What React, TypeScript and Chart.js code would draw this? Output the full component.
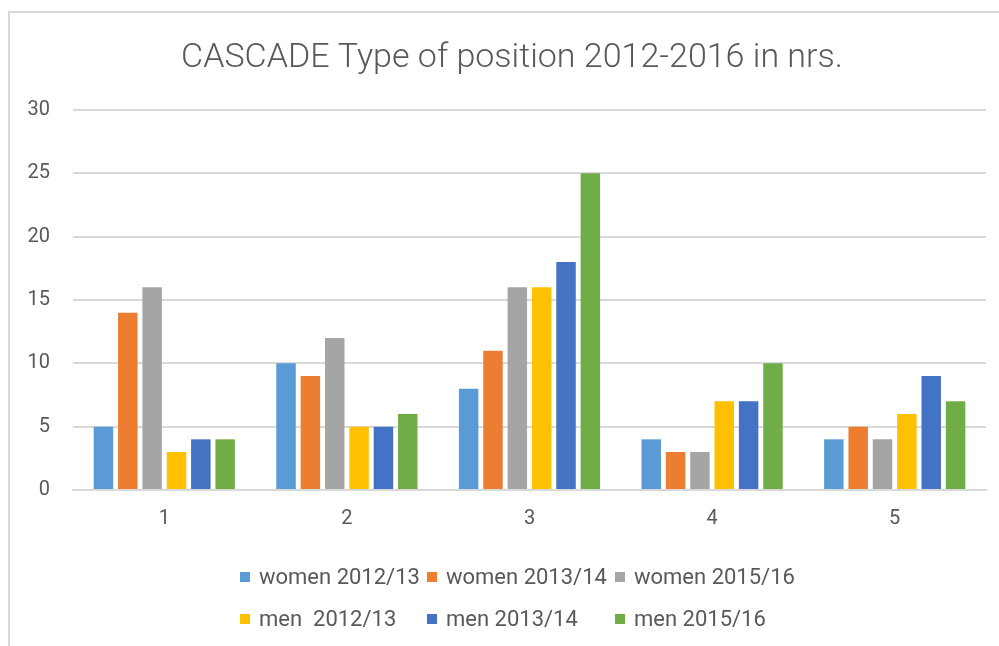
import React, { useEffect, useRef } from "react";
import { Chart, registerables } from "chart.js";

Chart.register(...registerables);

const titleText = "CASCADE Type of position 2012-2016 in nrs.";
const categories = ["1", "2", "3", "4", "5"];
const seriesNames = [
  "women 2012/13",
  "women 2013/14",
  "women 2015/16",
  "men  2012/13",
  "men 2013/14",
  "men 2015/16",
];
const women201213 = [5, 10, 8, 4, 4];
const women201314 = [14, 9, 11, 3, 5];
const women201516 = [16, 12, 16, 3, 4];
const men201213 = [3, 5, 16, 7, 6];
const men201314 = [4, 5, 18, 7, 9];
const men201516 = [4, 6, 25, 10, 7];
const seriesValues = [women201213, women201314, women201516, men201213, men201314, men201516];
const seriesColors = ["#5B9BD5", "#ED7D31", "#A5A5A5", "#FFC000", "#4472C4", "#70AD47"];
const yMin = 0;
const yMax = 30;
const yStep = 5;

const TEXT = "#595959";
const GRID = "#d9d9d9";
const FONT = "Roboto, 'Liberation Sans', sans-serif";

const framePlugin = {
  id: "frame",
  beforeDraw(chart: any) {
    const ctx = chart.ctx;
    ctx.save();
    ctx.fillStyle = "#ffffff";
    ctx.fillRect(0, 0, chart.width, chart.height);
    ctx.fillStyle = GRID;
    ctx.fillRect(8, 11, 2, chart.height - 11);
    ctx.fillRect(8, 11, chart.width - 8, 2);
    // title
    ctx.fillStyle = TEXT;
    ctx.font = `300 34px ${FONT}`;
    ctx.textAlign = "center";
    ctx.textBaseline = "alphabetic";
    ctx.fillText(titleText, 512, 67);
    ctx.restore();
  },
};

const gridLegendPlugin = {
  id: "gridLegend",
  afterDraw(chart: any) {
    const ctx = chart.ctx;
    const cols = [240, 427, 615];
    const rows = [577, 619];
    const box = 10;
    ctx.save();
    ctx.font = `400 22px ${FONT}`;
    ctx.textBaseline = "middle";
    ctx.textAlign = "left";
    chart.data.datasets.forEach((ds: any, i: number) => {
      const x = cols[i % 3];
      const y = rows[Math.floor(i / 3)];
      ctx.fillStyle = ds.backgroundColor;
      ctx.fillRect(x, y - box / 2, box, box);
      ctx.fillStyle = TEXT;
      ctx.fillText(ds.label, x + box + 9, y + 1);
    });
    ctx.restore();
  },
};

export default function App() {
  const ref = useRef<HTMLCanvasElement | null>(null);

  useEffect(() => {
    if (!ref.current) return;
    const chart = new Chart(ref.current, {
      type: "bar",
      data: {
        labels: categories,
        datasets: seriesNames.map((name, i) => ({
          label: name,
          data: seriesValues[i],
          backgroundColor: seriesColors[i],
          borderWidth: 0,
          categoryPercentage: 0.8,
          barPercentage: 0.8,
        })),
      },
      options: {
        animation: false,
        responsive: false,
        maintainAspectRatio: false,
        devicePixelRatio: 1,
        layout: { padding: { left: 10, right: 13, top: 110, bottom: 0 } },
        plugins: {
          legend: { display: false },
          tooltip: { enabled: false },
          title: { display: false },
        },
        scales: {
          x: {
            grid: { display: false, drawTicks: false },
            border: { display: true, color: GRID, width: 2 },
            ticks: { color: TEXT, font: { family: FONT, size: 20 }, padding: 17 },
            afterFit(scale: any) {
              scale.height = 156;
            },
          },
          y: {
            min: yMin,
            max: yMax,
            ticks: { stepSize: yStep, color: TEXT, font: { family: FONT, size: 20 }, padding: 23 },
            grid: { color: GRID, lineWidth: 2, drawTicks: false },
            border: { display: false },
            afterFit(scale: any) {
              scale.width = 63;
            },
          },
        },
      },
      plugins: [framePlugin, gridLegendPlugin],
    });
    return () => chart.destroy();
  }, []);

  return (
    <div style={{ position: "fixed", left: 0, top: 0, width: 999, height: 646, overflow: "hidden", background: "#fff" }}>
      <canvas ref={ref} width={999} height={646} style={{ display: "block", width: 999, height: 646 }} />
    </div>
  );
}
